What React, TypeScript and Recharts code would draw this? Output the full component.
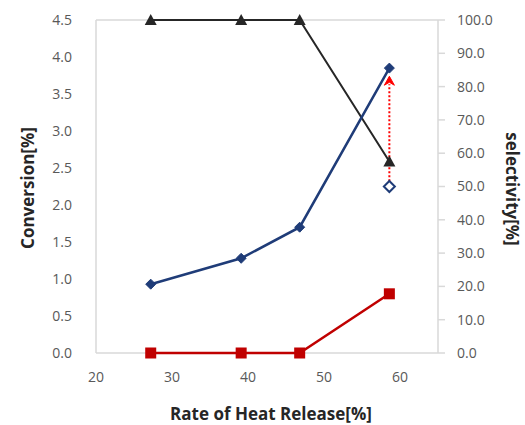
import { ComposedChart, Line, XAxis, YAxis, ReferenceLine, Label } from 'recharts';

// heat release rate [%]
const heatRelease = [27.2, 39.1, 46.8, 58.6];
// conversion [%] (left axis)
const conversion = [0.93, 1.28, 1.7, 3.85];
const conversionRed = [0, 0, 0, 0.8];
// selectivity [%] (right axis)
const selectivity = [100, 100, 100, 57.5];
// open diamond at last point, selectivity [%]
const openPoint = [null, null, null, 50];

const leftTicks = [0, 0.5, 1, 1.5, 2, 2.5, 3, 3.5, 4, 4.5];
const rightTicks = [0, 10, 20, 30, 40, 50, 60, 70, 80, 90, 100];
const xTicks = [20, 30, 40, 50, 60];

// arrow from open diamond up to filled diamond (left axis values)
const arrowFrom = 2.32;
const arrowTo = 3.74;

const data = heatRelease.map((x, i) => ({
    x,
    conversion: conversion[i],
    red: conversionRed[i],
    selectivity: selectivity[i],
    open: openPoint[i],
}));

const NAVY = '#1F3C78';
const DARK = '#262626';
const RED = '#C00000';
const AXIS = '#d9d9d9';
const FONT = '"Open Sans", sans-serif';

const Diamond = (props: any) => {
    const { cx, cy } = props;
    if (cx == null || cy == null) return null;
    const r = 5;
    return <polygon points={`${cx},${cy - r} ${cx + r},${cy} ${cx},${cy + r} ${cx - r},${cy}`} fill={NAVY} stroke={NAVY} />;
};

const OpenDiamond = (props: any) => {
    const { cx, cy } = props;
    if (cx == null || cy == null) return null;
    const r = 5.5;
    return <polygon points={`${cx},${cy - r} ${cx + r},${cy} ${cx},${cy + r} ${cx - r},${cy}`} fill="#fff" stroke={NAVY} strokeWidth={2} />;
};

const Triangle = (props: any) => {
    const { cx, cy } = props;
    if (cx == null || cy == null) return null;
    return <polygon points={`${cx},${cy - 6} ${cx + 6},${cy + 5} ${cx - 6},${cy + 5}`} fill={DARK} />;
};

const Square = (props: any) => {
    const { cx, cy } = props;
    if (cx == null || cy == null) return null;
    return <rect x={cx - 5.5} y={cy - 5.5} width={11} height={11} fill={RED} />;
};

const Arrow = (props: any) => {
    const { x1, y1, x2, y2 } = props;
    if (x1 == null) return null;
    // y1 = start (bottom), y2 = tip (top)
    return (
        <g>
            <line x1={x1} y1={y1} x2={x2} y2={y2 + 8} stroke="#FF0000" strokeWidth={2} strokeDasharray="2 2" />
            <polygon points={`${x2 - 5},${y2 + 9} ${x2},${y2} ${x2 + 5},${y2 + 9} ${x2},${y2 + 6}`} fill="#FF0000" stroke="#FF0000" strokeWidth={1} />
        </g>
    );
};

const tickStyle = { fontFamily: FONT, fontSize: 14, fill: '#595959' };

export default function App() {
    return (
        <div style={{ position: 'absolute', left: 0, top: 0, background: '#fff' }}>
            <ComposedChart width={525} height={425} data={data} margin={{ top: 20, right: 10, left: 10, bottom: 10 }}>
                <ReferenceLine yAxisId="left" y={0} stroke={AXIS} strokeWidth={1.5} />
                <ReferenceLine yAxisId="left" y={4.5} stroke={AXIS} strokeWidth={1.5} />
                <XAxis
                    dataKey="x"
                    type="number"
                    domain={[20, 65]}
                    ticks={xTicks}
                    allowDataOverflow
                    height={62}
                    axisLine={false}
                    tickLine={false}
                    tickSize={0}
                    tickMargin={19}
                    tick={tickStyle}
                >
                    <Label
                        content={() => (
                            <text x={271} y={413} textAnchor="middle" dominantBaseline="central" fontFamily={FONT} fontSize={17} fontWeight="bold" fill={DARK}>
                                Rate of Heat Release[%]
                            </text>
                        )}
                    />
                </XAxis>
                <YAxis
                    yAxisId="left"
                    orientation="left"
                    domain={[0, 4.5]}
                    ticks={leftTicks}
                    width={86}
                    stroke={AXIS}
                    strokeWidth={1.5}
                    tickLine={false}
                    tickSize={0}
                    tickMargin={24}
                    tick={tickStyle}
                    tickFormatter={(v: number) => v.toFixed(1)}
                >
                    <Label
                        content={() => (
                            <text x={27} y={188} transform="rotate(-90 27 188)" textAnchor="middle" dominantBaseline="central" fontFamily={FONT} fontSize={17} fontWeight="bold" fill={DARK}>
                                Conversion[%]
                            </text>
                        )}
                    />
                </YAxis>
                <YAxis
                    yAxisId="right"
                    orientation="right"
                    domain={[0, 100]}
                    ticks={rightTicks}
                    width={77}
                    stroke={AXIS}
                    strokeWidth={1.5}
                    tickLine={{ stroke: AXIS }}
                    tickSize={7}
                    tickMargin={12}
                    tick={tickStyle}
                    tickFormatter={(v: number) => v.toFixed(1)}
                >
                    <Label
                        content={() => (
                            <text x={512} y={189} transform="rotate(90 512 189)" textAnchor="middle" dominantBaseline="central" fontFamily={FONT} fontSize={17} fontWeight="bold" fill={DARK}>
                                selectivity[%]
                            </text>
                        )}
                    />
                </YAxis>
                <Line yAxisId="right" dataKey="selectivity" stroke={DARK} strokeWidth={2} dot={<Triangle />} isAnimationActive={false} />
                <Line yAxisId="left" dataKey="conversion" stroke={NAVY} strokeWidth={2.5} dot={<Diamond />} isAnimationActive={false} />
                <Line yAxisId="left" dataKey="red" stroke={RED} strokeWidth={2.5} dot={<Square />} isAnimationActive={false} />
                <ReferenceLine
                    yAxisId="left"
                    segment={[{ x: heatRelease[3], y: arrowFrom }, { x: heatRelease[3], y: arrowTo }]}
                    shape={<Arrow />}
                />
                <Line yAxisId="right" dataKey="open" stroke="none" dot={<OpenDiamond />} isAnimationActive={false} />
            </ComposedChart>
        </div>
    );
}
